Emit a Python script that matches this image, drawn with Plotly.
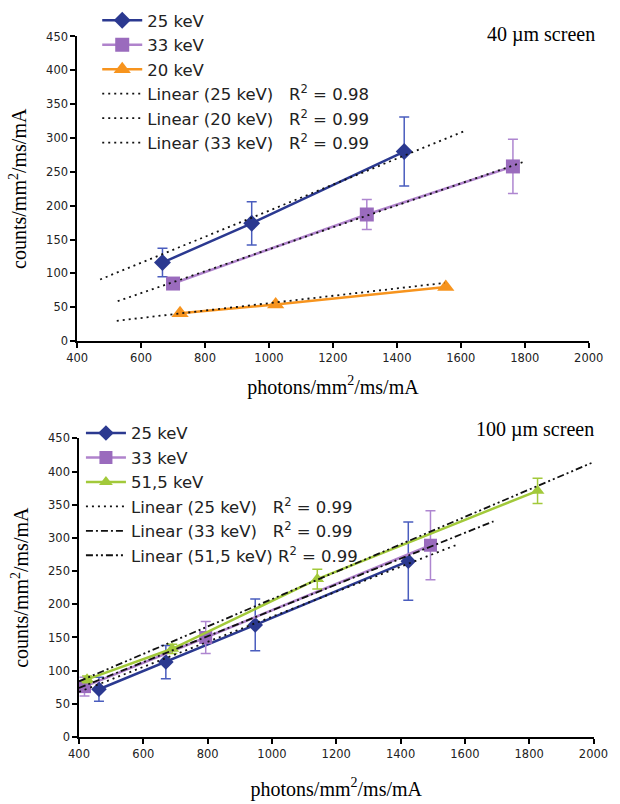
import plotly.graph_objects as go

# ---------------- data: 40 um screen (top) ----------------
top_x_25 = [667, 946, 1423]
top_y_25 = [116, 174, 280]
top_e_25 = [21, 32, 51]

top_x_33 = [700, 1306, 1763]
top_y_33 = [85, 187, 258]
top_e_33 = [4, 22, 40]

top_x_20 = [722, 1021, 1553]
top_y_20 = [41, 54, 80]

top_trend_x_25 = [472, 1610]
top_trend_y_25 = [91, 310]
top_trend_x_20 = [524, 1550]
top_trend_y_20 = [30, 86]
top_trend_x_33 = [527, 1798]
top_trend_y_33 = [59, 265]

# ---------------- data: 100 um screen (bottom) ----------------
bot_x_25 = [462, 670, 948, 1424]
bot_y_25 = [72, 113, 169, 265]
bot_e_25 = [18, 25, 39, 59]

bot_x_33 = [417, 794, 1493]
bot_y_33 = [76, 150, 289]
bot_e_33 = [14, 24, 52]

bot_x_51 = [425, 690, 1141, 1826]
bot_y_51 = [87, 133, 238, 371]
bot_e_51 = [5, 7, 15, 19]

bot_trend_x_25 = [400, 1582]
bot_trend_y_25 = [68, 291]
bot_trend_x_33 = [400, 1689]
bot_trend_y_33 = [74, 325]
bot_trend_x_51 = [400, 1999]
bot_trend_y_51 = [84, 414]

x_ticks = [400, 600, 800, 1000, 1200, 1400, 1600, 1800, 2000]
y_ticks = [0, 50, 100, 150, 200, 250, 300, 350, 400, 450]

# ---------------- styles ----------------
NAVY = "#2B3990"
NAVY_ERR = "#4A5DBE"
PURPLE = "#9A6BBD"
PURPLE_LINE = "#B083CC"
PURPLE_ERR = "#AE86D0"
ORANGE = "#F7941E"
GREEN = "#A2C93A"
TREND = "#111111"
SANS = "DejaVu Sans, Arial, sans-serif"
SERIF = "Liberation Serif, Times New Roman, serif"
NB = "\u00a0"

fig = go.Figure()


def data_trace(x, y, name, color, linecolor, symbol, size, xa, ya, legend, err=None, errcolor=None):
    kw = {}
    if err is not None:
        kw["error_y"] = dict(type="data", array=err, visible=True, color=errcolor,
                             thickness=1.5, width=5)
    return go.Scatter(x=x, y=y, name=name, mode="lines+markers",
                      line=dict(color=linecolor, width=2.5),
                      marker=dict(symbol=symbol, size=size, color=color),
                      xaxis=xa, yaxis=ya, legend=legend, cliponaxis=False, **kw)


def trend_trace(x, y, name, dash, xa, ya, legend):
    return go.Scatter(x=x, y=y, name=name, mode="lines",
                      line=dict(color=TREND, width=1.8, dash=dash),
                      xaxis=xa, yaxis=ya, legend=legend, cliponaxis=False)


DOT = "2px,4px"

# top
fig.add_trace(data_trace(top_x_25, top_y_25, "25 keV", NAVY, NAVY, "diamond", 13, "x", "y", "legend", top_e_25, NAVY_ERR))
fig.add_trace(data_trace(top_x_33, top_y_33, "33 keV", PURPLE, PURPLE_LINE, "square", 14, "x", "y", "legend", top_e_33, PURPLE_ERR))
fig.add_trace(data_trace(top_x_20, top_y_20, "20 keV", ORANGE, ORANGE, "triangle-up", 15, "x", "y", "legend"))
fig.add_trace(trend_trace(top_trend_x_25, top_trend_y_25, "Linear (25 keV)" + NB * 3 + "R<sup>2</sup> = 0.98", DOT, "x", "y", "legend"))
fig.add_trace(trend_trace(top_trend_x_20, top_trend_y_20, "Linear (20 keV)" + NB * 3 + "R<sup>2</sup> = 0.99", DOT, "x", "y", "legend"))
fig.add_trace(trend_trace(top_trend_x_33, top_trend_y_33, "Linear (33 keV)" + NB * 3 + "R<sup>2</sup> = 0.99", DOT, "x", "y", "legend"))

# bottom
fig.add_trace(data_trace(bot_x_25, bot_y_25, "25 keV", NAVY, NAVY, "diamond", 12, "x2", "y2", "legend2", bot_e_25, NAVY_ERR))
fig.add_trace(data_trace(bot_x_33, bot_y_33, "33 keV", PURPLE, PURPLE_LINE, "square", 13, "x2", "y2", "legend2", bot_e_33, PURPLE_ERR))
fig.add_trace(data_trace(bot_x_51, bot_y_51, "51,5 keV", GREEN, GREEN, "triangle-up", 12, "x2", "y2", "legend2", bot_e_51, GREEN))
fig.add_trace(trend_trace(bot_trend_x_25, bot_trend_y_25, "Linear (25 keV)" + NB * 3 + "R<sup>2</sup> = 0.99", DOT, "x2", "y2", "legend2"))
fig.add_trace(trend_trace(bot_trend_x_33, bot_trend_y_33, "Linear (33 keV)" + NB * 3 + "R<sup>2</sup> = 0.99", "7px,3px,2px,3px", "x2", "y2", "legend2"))
fig.add_trace(trend_trace(bot_trend_x_51, bot_trend_y_51, "Linear (51,5 keV)" + NB + "R<sup>2</sup> = 0.99", "7px,3px,2px,3px,2px,3px", "x2", "y2", "legend2"))

W, H = 620, 804

axis_common = dict(showline=True, linecolor="black", linewidth=1.5, showgrid=False,
                   zeroline=False, ticks="outside", ticklen=5, tickcolor="black",
                   tickwidth=1.5, tickfont=dict(family=SANS, size=11.5, color="#222222"))

TFONT = dict(family=SERIF, size=20, color="black")

fig.update_layout(
    width=W, height=H,
    margin=dict(l=0, r=0, t=0, b=0),
    paper_bgcolor="white", plot_bgcolor="white",
    xaxis=dict(domain=[69 / W, 603 / W], range=[400, 2000], tickvals=x_ticks, anchor="y",
               title=dict(text="photons/mm<sup>2</sup>/ms/mA", font=TFONT, standoff=16), **axis_common),
    yaxis=dict(domain=[1 - 340 / H, 1 - 30 / H], range=[0, 450], tickvals=y_ticks, anchor="x",
               title=dict(text="counts/mm<sup>2</sup>/ms/mA", font=TFONT, standoff=14), **axis_common),
    xaxis2=dict(domain=[71 / W, 608 / W], range=[400, 2000], tickvals=x_ticks, anchor="y2",
                title=dict(text="photons/mm<sup>2</sup>/ms/mA", font=TFONT, standoff=22), **axis_common),
    yaxis2=dict(domain=[1 - 743 / H, 1 - 439 / H], range=[0, 450], tickvals=y_ticks, anchor="x2",
                title=dict(text="counts/mm<sup>2</sup>/ms/mA", font=TFONT, standoff=14), **axis_common),
    legend=dict(x=90 / W, y=1 + 4 / H, xanchor="left", yanchor="top",
                bgcolor="rgba(0,0,0,0)", font=dict(family=SANS, size=16.5, color="#222222"),
                itemwidth=40, tracegroupgap=0),
    legend2=dict(x=73 / W, y=1 - 416 / H, xanchor="left", yanchor="top",
                 bgcolor="rgba(0,0,0,0)", font=dict(family=SANS, size=16.5, color="#222222"),
                 itemwidth=40, tracegroupgap=0),
    annotations=[
        dict(text="40 µm screen", x=612 / W, y=1 - 28 / H, xref="paper", yref="paper",
             xanchor="right", yanchor="middle", showarrow=False,
             font=dict(family=SERIF, size=20, color="black")),
        dict(text="100 µm screen", x=611 / W, y=1 - 430 / H, xref="paper", yref="paper",
             xanchor="right", yanchor="middle", showarrow=False,
             font=dict(family=SERIF, size=20, color="black")),
    ],
    showlegend=True,
)

fig.write_html("out.html")
